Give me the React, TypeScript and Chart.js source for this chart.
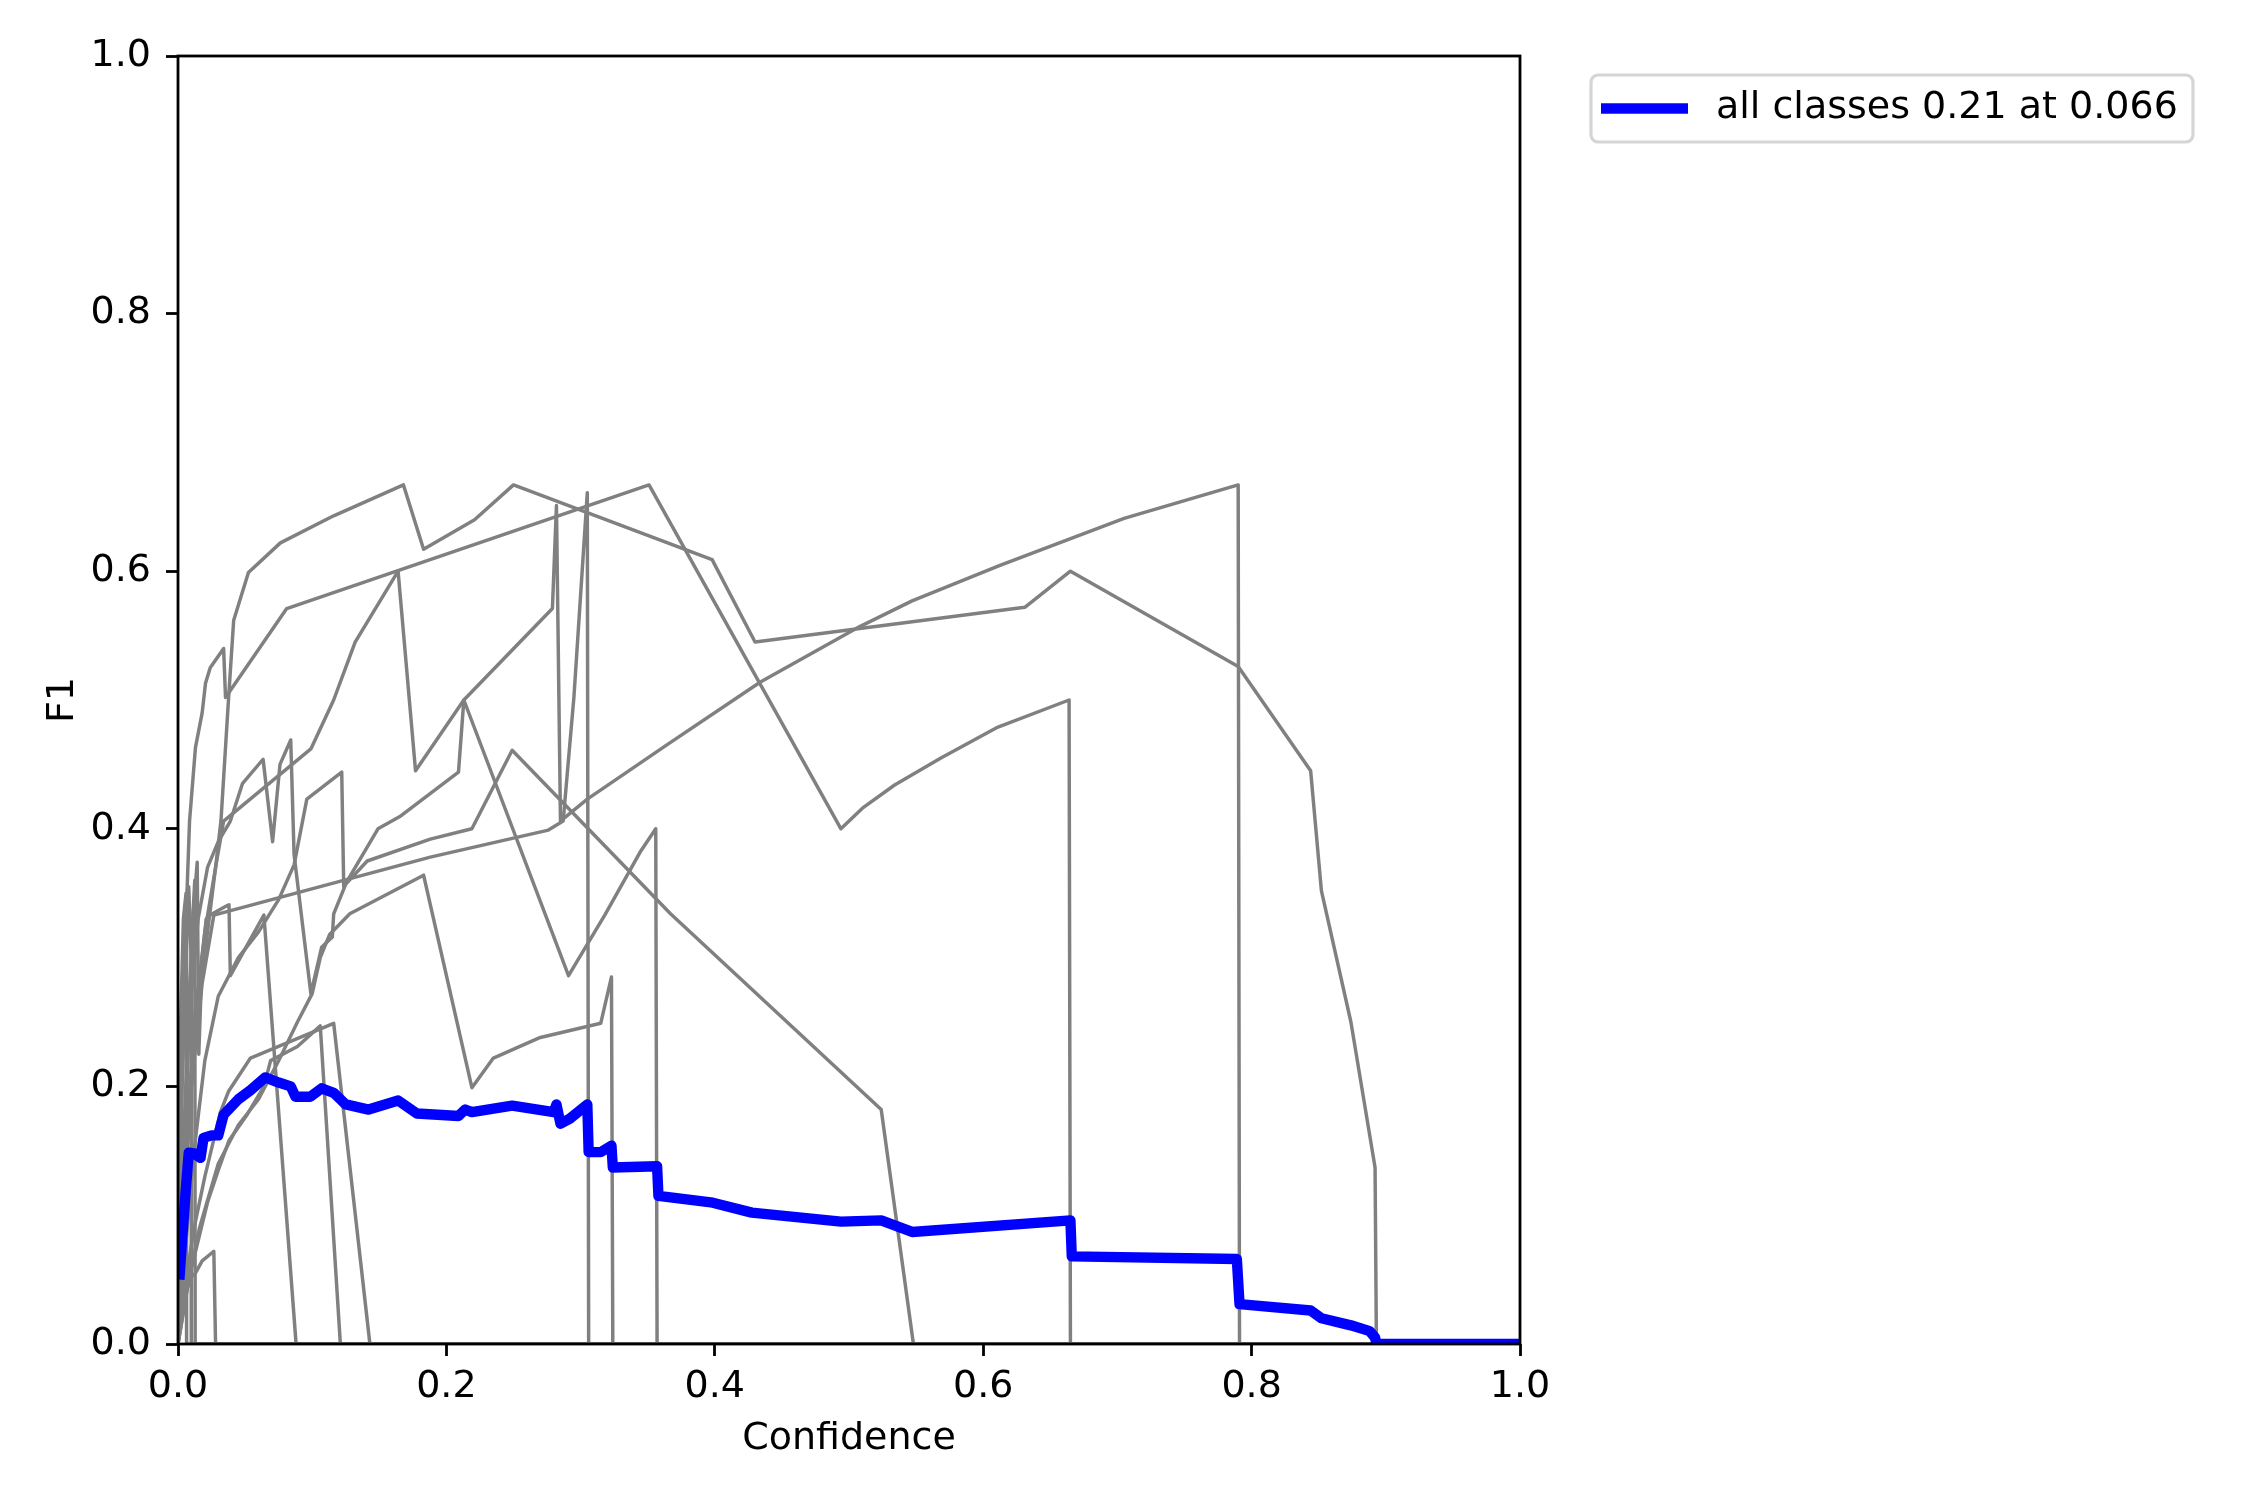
import React, { useEffect, useRef } from "react";
import { Chart, registerables } from "chart.js";

Chart.register(...registerables);

type Pt = [number, number];

// ---- axis ticks / labels ----
const xTicks = [0, 0.2, 0.4, 0.6, 0.8, 1.0];
const yTicks = [0, 0.2, 0.4, 0.6, 0.8, 1.0];
const xTitle = "Confidence";
const yTitle = "F1";
const allLabel = "all classes 0.21 at 0.066";

// ---- all classes (blue) ----
const allClasses: Pt[] = [
  [0.001, 0.05], [0.003, 0.08], [0.0056, 0.117], [0.008, 0.1486], [0.012, 0.148], [0.0168, 0.1445],
  [0.019, 0.16], [0.025, 0.162], [0.03, 0.162], [0.034, 0.178], [0.045, 0.19], [0.054, 0.197],
  [0.065, 0.207], [0.075, 0.203], [0.084, 0.2], [0.0875, 0.192], [0.0987, 0.192], [0.107, 0.1985],
  [0.116, 0.195], [0.125, 0.186], [0.142, 0.182], [0.164, 0.189], [0.178, 0.179], [0.209, 0.177],
  [0.214, 0.182], [0.219, 0.18], [0.249, 0.185], [0.28, 0.18], [0.282, 0.186], [0.285, 0.171],
  [0.292, 0.175], [0.305, 0.186], [0.306, 0.149], [0.315, 0.149], [0.323, 0.154], [0.324, 0.137],
  [0.357, 0.138], [0.358, 0.115], [0.397, 0.11], [0.4276, 0.102], [0.494, 0.095], [0.524, 0.096],
  [0.547, 0.087], [0.665, 0.096], [0.666, 0.068], [0.789, 0.066], [0.791, 0.031], [0.844, 0.026],
  [0.852, 0.02], [0.874, 0.0145], [0.888, 0.01], [0.892, 0.005], [0.893, 0], [1, 0],
];

// ---- per-class curves (grey) ----
const classA: Pt[] = [
  [0, 0.02], [0.005, 0.12], [0.01, 0.2], [0.016, 0.27], [0.022, 0.32], [0.028, 0.37], [0.032, 0.406],
  [0.0376, 0.5], [0.0415, 0.562], [0.0525, 0.599], [0.0763, 0.622], [0.116, 0.643], [0.168, 0.667],
  [0.183, 0.617], [0.221, 0.64], [0.25, 0.667], [0.398, 0.609], [0.43, 0.545], [0.631, 0.572],
  [0.665, 0.6], [0.79, 0.526], [0.844, 0.445], [0.852, 0.352], [0.874, 0.25], [0.892, 0.137],
  [0.893, 0], [1, 0],
];
const classB: Pt[] = [
  [0, 0.03], [0.003, 0.2], [0.006, 0.33], [0.0086, 0.406], [0.013, 0.463], [0.018, 0.49],
  [0.0205, 0.513], [0.024, 0.525], [0.034, 0.54], [0.0354, 0.502], [0.081, 0.571], [0.351, 0.667],
  [0.494, 0.4], [0.51, 0.416], [0.534, 0.434], [0.5685, 0.455], [0.611, 0.479], [0.664, 0.5],
  [0.665, 0], [1, 0],
];
const classC: Pt[] = [
  [0, 0.02], [0.006, 0.15], [0.012, 0.25], [0.02, 0.32], [0.028, 0.37], [0.034, 0.406],
  [0.099, 0.462], [0.116, 0.5], [0.132, 0.545], [0.164, 0.6], [0.177, 0.445], [0.213, 0.5],
  [0.279, 0.571], [0.282, 0.651], [0.285, 0.406], [0.305, 0.423], [0.364, 0.465], [0.434, 0.514],
  [0.508, 0.557], [0.547, 0.577], [0.6125, 0.6045], [0.705, 0.641], [0.79, 0.667], [0.791, 0], [1, 0],
];
const classE: Pt[] = [
  [0, 0], [0.005, 0.12], [0.01, 0.2], [0.018, 0.28], [0.0267, 0.333], [0.188, 0.378], [0.276, 0.399],
  [0.287, 0.406], [0.295, 0.502], [0.305, 0.661], [0.306, 0], [1, 0],
];
const classR: Pt[] = [
  [0, 0], [0.004, 0.15], [0.009, 0.26], [0.015, 0.33], [0.022, 0.37], [0.03, 0.39], [0.039, 0.406],
  [0.048, 0.435], [0.0634, 0.454], [0.0705, 0.39], [0.076, 0.45], [0.084, 0.469], [0.0865, 0.38],
  [0.099, 0.272], [0.107, 0.308], [0.115, 0.316], [0.116, 0.334], [0.125, 0.357], [0.141, 0.375],
  [0.188, 0.392], [0.219, 0.4], [0.249, 0.461], [0.367, 0.334], [0.524, 0.182], [0.548, 0], [1, 0],
];
const classF: Pt[] = [
  [0, 0], [0.008, 0.05], [0.016, 0.09], [0.03, 0.14], [0.045, 0.17], [0.06, 0.19], [0.075, 0.22],
  [0.089, 0.25], [0.1, 0.272], [0.106, 0.3], [0.113, 0.318], [0.128, 0.334], [0.183, 0.364],
  [0.219, 0.199], [0.235, 0.222], [0.27, 0.238], [0.315, 0.249], [0.323, 0.285], [0.324, 0], [1, 0],
];
const classG: Pt[] = [
  [0, 0], [0.006, 0.08], [0.012, 0.15], [0.02, 0.22], [0.03, 0.27], [0.045, 0.3], [0.06, 0.32],
  [0.075, 0.345], [0.0865, 0.372], [0.096, 0.423], [0.122, 0.444], [0.1235, 0.355], [0.149, 0.4],
  [0.166, 0.41], [0.209, 0.444], [0.213, 0.5], [0.291, 0.286], [0.318, 0.333], [0.345, 0.383],
  [0.356, 0.4], [0.357, 0], [1, 0],
];
const classH: Pt[] = [
  [0, 0.02], [0.004, 0.15], [0.008, 0.26], [0.011, 0.33], [0.0143, 0.374], [0.0155, 0.225],
  [0.018, 0.3], [0.021, 0.33], [0.024, 0.333], [0.036, 0.34], [0.038, 0.341], [0.039, 0.286],
  [0.056, 0.318], [0.064, 0.333], [0.088, 0], [1, 0],
];
const classJ: Pt[] = [
  [0, 0], [0.006, 0.05], [0.012, 0.09], [0.02, 0.13], [0.0316, 0.18], [0.0376, 0.196],
  [0.054, 0.222], [0.116, 0.249], [0.143, 0], [1, 0],
];
const classL: Pt[] = [
  [0, 0], [0.008, 0.05], [0.015, 0.08], [0.022, 0.11], [0.03, 0.135], [0.038, 0.158],
  [0.0515, 0.178], [0.064, 0.2], [0.069, 0.22], [0.089, 0.231], [0.106, 0.247], [0.121, 0], [1, 0],
];
const classD: Pt[] = [
  [0, 0], [0.002, 0.026], [0.0093, 0.0515], [0.013, 0.055], [0.018, 0.0645], [0.0267, 0.072],
  [0.028, 0], [1, 0],
];
const classS1: Pt[] = [
  [0, 0.1], [0.002, 0.25], [0.004, 0.33], [0.006, 0.35], [0.0064, 0], [1, 0],
];
const classS2: Pt[] = [
  [0, 0.05], [0.003, 0.2], [0.006, 0.3], [0.008, 0.355], [0.0098, 0.3], [0.0099, 0], [1, 0],
];
const classS3: Pt[] = [
  [0, 0], [0.004, 0.1], [0.008, 0.25], [0.011, 0.33], [0.0125, 0.36], [0.0128, 0], [1, 0],
];

const classCurves: Pt[][] = [
  classA, classB, classC, classE, classR, classF, classG, classH,
  classJ, classL, classD, classS1, classS2, classS3,
];

const FONT = "'DejaVu Sans', sans-serif";
const FS = 38;

export default function App() {
  const ref = useRef<HTMLCanvasElement | null>(null);

  useEffect(() => {
    const canvas = ref.current;
    if (!canvas) return;
    const toData = (pts: Pt[]) => pts.map(([x, y]) => ({ x, y }));
    const common = {
      pointRadius: 0,
      pointHoverRadius: 0,
      tension: 0,
      fill: false,
      clip: 0,
      borderJoinStyle: "round" as const,
      borderCapStyle: "butt" as const,
    };
    const datasets: any[] = [
      { ...common, label: allLabel, data: toData(allClasses), borderColor: "#0000ff", borderWidth: 10.4 },
      ...classCurves.map((c, i) => ({
        ...common,
        label: `class ${i}`,
        data: toData(c),
        borderColor: "#808080",
        borderWidth: 3.47,
      })),
    ];

    const framePlugin = {
      id: "frame",
      afterDatasetsDraw(chart: any) {
        const { ctx, chartArea: a } = chart;
        ctx.save();
        ctx.strokeStyle = "#000";
        ctx.lineWidth = 2.8;
        ctx.strokeRect(a.left, a.top, a.right - a.left, a.bottom - a.top);
        ctx.restore();
      },
    };

    const legendPlugin = {
      id: "customLegend",
      afterDraw(chart: any) {
        const ctx = chart.ctx as CanvasRenderingContext2D;
        const ds = chart.data.datasets[0];
        ctx.save();
        const x0 = 1591, y0 = 75, w = 602, h = 67;
        ctx.beginPath();
        (ctx as any).roundRect(x0, y0, w, h, 7);
        ctx.fillStyle = "rgba(255,255,255,0.8)";
        ctx.fill();
        ctx.strokeStyle = "#d5d5d5";
        ctx.lineWidth = 3.2;
        ctx.stroke();
        const cy = y0 + h / 2;
        ctx.beginPath();
        ctx.moveTo(1601, cy);
        ctx.lineTo(1688, cy);
        ctx.strokeStyle = ds.borderColor;
        ctx.lineWidth = ds.borderWidth;
        ctx.lineCap = "butt";
        ctx.stroke();
        ctx.fillStyle = "#000";
        ctx.font = `${FS}px ${FONT}`;
        ctx.textBaseline = "middle";
        ctx.textAlign = "left";
        ctx.fillText(ds.label, 1716, cy);
        ctx.restore();
      },
    };

    const tickFont = { family: FONT, size: FS };
    const chart = new Chart(canvas, {
      type: "line",
      data: { datasets },
      plugins: [framePlugin, legendPlugin],
      options: {
        animation: false,
        responsive: false,
        devicePixelRatio: 1,
        events: [],
        layout: { padding: { top: 56, right: 730, bottom: 0, left: 0 } },
        plugins: { legend: { display: false }, tooltip: { enabled: false } },
        scales: {
          x: {
            type: "linear",
            min: 0,
            max: 1,
            afterBuildTicks: (s: any) => {
              s.ticks = xTicks.map((v) => ({ value: v }));
            },
            afterFit: (s: any) => {
              s.height = 156;
            },
            ticks: {
              callback: (v: any) => Number(v).toFixed(1),
              font: tickFont,
              color: "#000",
              padding: 8.5,
              maxRotation: 0,
              autoSkip: false,
            },
            grid: {
              drawOnChartArea: false,
              drawTicks: true,
              tickLength: 12,
              tickWidth: 2.8,
              tickColor: "#000",
            },
            border: { display: false },
            title: {
              display: true,
              text: xTitle,
              font: tickFont,
              color: "#000",
              padding: { top: 0, bottom: 38 },
            },
          },
          y: {
            type: "linear",
            min: 0,
            max: 1,
            afterBuildTicks: (s: any) => {
              s.ticks = yTicks.map((v) => ({ value: v }));
            },
            afterFit: (s: any) => {
              s.width = 178;
            },
            ticks: {
              callback: (v: any) => Number(v).toFixed(1),
              font: tickFont,
              color: "#000",
              padding: 15,
              autoSkip: false,
            },
            grid: {
              drawOnChartArea: false,
              drawTicks: true,
              tickLength: 12,
              tickWidth: 2.8,
              tickColor: "#000",
            },
            border: { display: false },
            title: {
              display: true,
              text: yTitle,
              font: tickFont,
              color: "#000",
              padding: { top: 40, bottom: 0 },
            },
          },
        },
      } as any,
    });
    return () => chart.destroy();
  }, []);

  return (
    <div style={{ position: "absolute", left: 0, top: 0, width: 2250, height: 1500, background: "#fff" }}>
      <canvas ref={ref} width={2250} height={1500} style={{ width: 2250, height: 1500, display: "block" }} />
    </div>
  );
}
